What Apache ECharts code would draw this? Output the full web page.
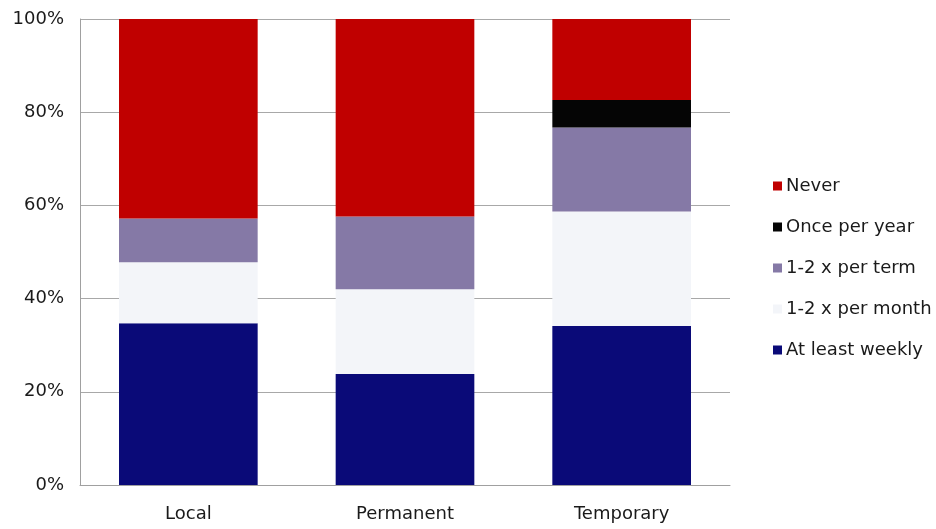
<!DOCTYPE html>
<html>
<head>
<meta charset="utf-8">
<script src="https://cdn.jsdelivr.net/npm/echarts@6/dist/echarts.min.js"></script>
<style>
  html, body { margin: 0; padding: 0; background: #fff; }
  #chart { width: 936px; height: 529px; }
</style>
</head>
<body>
<div id="chart"></div>
<script>
// categories and series values (percent), bottom to top of each stack
var categories = ['Local', 'Permanent', 'Temporary']
var atLeastWeekly = [34.7, 23.8, 34.1]
var perMonth = [13.1, 18.2, 24.6]
var perTerm = [9.4, 15.6, 18.0]
var oncePerYear = [0, 0, 5.9]
var never = [42.8, 42.4, 17.4]
var yTicks = [0, 20, 40, 60, 80, 100]

var seriesDefs = [
  { name: 'At least weekly', data: atLeastWeekly, color: '#0a0a78' },
  { name: '1-2 x per month', data: perMonth, color: '#f3f5f9' },
  { name: '1-2 x per term', data: perTerm, color: '#8579a6' },
  { name: 'Once per year', data: oncePerYear, color: '#050505' },
  { name: 'Never', data: never, color: '#c00000' }
]

var chart = echarts.init(document.getElementById('chart'), null, { renderer: 'canvas' })

var option = {
  animation: false,
  textStyle: { fontFamily: 'DejaVu Sans, Arial, sans-serif' },
  grid: { left: 80, right: 206, top: 19, bottom: 44 },
  legend: {
    orient: 'vertical',
    left: 768,
    top: 172,
    itemWidth: 9,
    itemHeight: 9,
    itemGap: 23,
    icon: 'rect',
    data: seriesDefs.map(function(s) { return s.name }).reverse(),
    textStyle: { fontSize: 18, color: '#1a1a1a', padding: [0, 0, 0, -1] }
  },
  xAxis: {
    type: 'category',
    data: categories,
    axisLine: { show: true, lineStyle: { color: '#a0a0a0' } },
    axisTick: { show: false },
    axisLabel: { fontSize: 18, color: '#1a1a1a', margin: 20 }
  },
  yAxis: {
    type: 'value',
    min: yTicks[0],
    max: yTicks[yTicks.length - 1],
    interval: 20,
    axisLine: { show: true, lineStyle: { color: '#a0a0a0' } },
    axisTick: { show: false },
    splitLine: { show: true, lineStyle: { color: '#a8a8a8' } },
    axisLabel: {
      fontSize: 18,
      color: '#1a1a1a',
      margin: 16,
      formatter: function(v) { return v + '%' }
    }
  },
  series: seriesDefs.map(function(s) {
    return {
      name: s.name,
      type: 'bar',
      stack: 'total',
      data: s.data,
      barCategoryGap: '36%',
      itemStyle: { color: s.color }
    }
  })
}

chart.setOption(option)
</script>
</body>
</html>
